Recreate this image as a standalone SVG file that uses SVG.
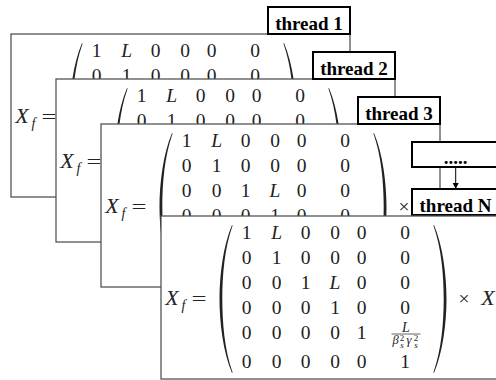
<svg xmlns="http://www.w3.org/2000/svg" xmlns:xlink="http://www.w3.org/1999/xlink" width="496" height="380" viewBox="0 0 496 380">
<style>
.frame{fill:#fff;stroke:#555;stroke-width:1.3}
.tbox{fill:#fff;stroke:#000;stroke-width:2}
.tlabel{font-family:"Liberation Serif",serif;font-weight:bold;font-size:19px;fill:#000;text-anchor:middle}
.m{font-family:"Liberation Serif",serif;font-size:19.5px;fill:#222;text-anchor:middle}
.it{font-style:italic}
.big{font-size:22px}
.sub{font-size:14px}
.num{font-size:14px}
.den{font-size:12.5px}
.scr{font-size:9px}
.paren{fill:#222}
.conn{stroke:#000;stroke-width:1;fill:none}
</style>
<defs>
<clipPath id="fc" clipPathUnits="userSpaceOnUse"><rect x="0" y="0" width="339" height="163"/></clipPath>
<marker id="ah" markerWidth="8" markerHeight="8" refX="6" refY="3" orient="auto" markerUnits="userSpaceOnUse">
<path d="M0,0 L6,3 L0,6 Z" fill="#000"/>
</marker>
<path id="lp" d="M71,9 C62,30 58.5,60 58.5,83 C58.5,106 62,136 71,157 L71.6,156.4 C63.5,134 61.3,106 61.3,83 C61.3,60 63.5,32 71.6,9.6 Z"/>
<g id="eq">
<text class="m it big" x="11" y="89">X</text>
<text class="m it sub" x="22.5" y="94">f</text>
<text class="m" x="38" y="89" textLength="15" lengthAdjust="spacingAndGlyphs">=</text>
<use xlink:href="#lp" class="paren"/>
<use xlink:href="#lp" class="paren" transform="translate(344,0) scale(-1,1)"/>
<text class="m" x="85.7" y="23.3">1<tspan class="it" x="115.7">L</tspan><tspan x="144.7 174 200.7 244">0000</tspan></text>
<text class="m" x="85.7 115.7 144.7 174 200.7 244" y="48.3">010000</text>
<text class="m" x="85.7 115.7 144.7" y="73.3">001<tspan class="it" x="174">L</tspan><tspan x="200.7 244">00</tspan></text>
<text class="m" x="85.7 115.7 144.7 174 200.7 244" y="98.3">000100</text>
<text class="m" x="85.7 115.7 144.7 174 200.7" y="123.3">00001</text>
<text class="m it num" x="245" y="115.8">L</text>
<line x1="230.5" y1="118" x2="259.5" y2="118" stroke="#222" stroke-width="0.7"/>
<text class="m it den" x="234.5" y="128">β</text>
<text class="m scr" x="241" y="124.5">2</text>
<text class="m it scr" x="241" y="131.5">s</text>
<text class="m it den" x="248" y="128">γ</text>
<text class="m scr" x="255" y="124.5">2</text>
<text class="m it scr" x="255" y="131.5">s</text>
<text class="m" x="85.7 115.7 144.7 174 200.7 244" y="151.7">000001</text>
<text class="m" x="303" y="89">×</text>
<text class="m it big" x="327" y="89">X</text>
<text class="m it sub" x="339" y="94">s</text>
</g>
</defs>
<g id="frame1">
<rect class="frame" x="11" y="34" width="339" height="163"/>
<g transform="translate(11,34)" clip-path="url(#fc)"><use xlink:href="#eq"/></g>
</g>
<g id="thread1">
<rect class="tbox" x="268" y="7" width="82" height="27"/>
<text class="tlabel" x="309" y="30">thread 1</text>
</g>
<g id="frame2">
<rect class="frame" x="56" y="79" width="339" height="163"/>
<g transform="translate(56,79)" clip-path="url(#fc)"><use xlink:href="#eq"/></g>
</g>
<g id="thread2">
<rect class="tbox" x="313" y="52" width="82" height="27"/>
<text class="tlabel" x="354" y="75">thread 2</text>
</g>
<g id="frame3">
<rect class="frame" x="101" y="124" width="339" height="163"/>
<g transform="translate(101,124)" clip-path="url(#fc)"><use xlink:href="#eq"/></g>
</g>
<g id="thread3">
<rect class="tbox" x="358" y="97" width="82" height="27"/>
<text class="tlabel" x="399" y="120">thread 3</text>
</g>
<g id="dots">
<rect class="tbox" x="412" y="142" width="87" height="25"/>
<text class="tlabel" x="455.5" y="164">.....</text>
</g>
<g id="connectors">
<line class="conn" x1="455.7" y1="167" x2="455.7" y2="189" marker-end="url(#ah)"/>
</g>
<g id="threadN">
<rect class="tbox" x="412" y="189" width="87" height="26"/>
<text class="tlabel" x="455.5" y="211.5">thread N</text>
</g>
<g id="frame4">
<rect class="frame" x="161" y="216" width="339" height="163"/>
<g transform="translate(161,216)" clip-path="url(#fc)"><use xlink:href="#eq"/></g>
</g>
</svg>
